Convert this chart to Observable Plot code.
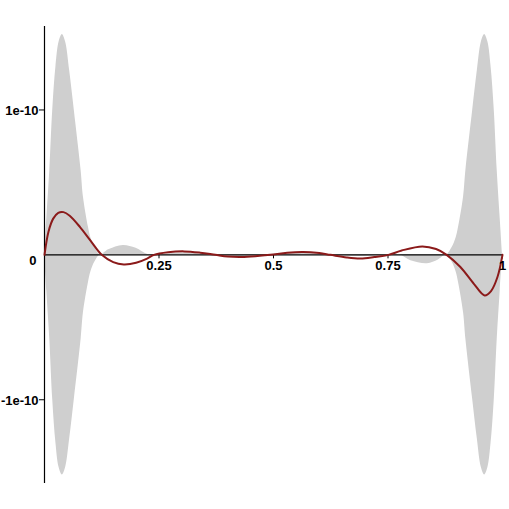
<!DOCTYPE html>
<html><head><meta charset="utf-8">
<script src="https://cdn.jsdelivr.net/npm/d3@7"></script>
<script src="https://cdn.jsdelivr.net/npm/@observablehq/plot@0.6"></script>
<style>body{margin:0;background:#fff}</style>
</head><body><div id="chart"></div>
<script>
// values in units of 1e-10
const bandX     = [0, 0.005, 0.0115, 0.018, 0.025, 0.032, 0.039, 0.046, 0.055, 0.065, 0.08, 0.085, 0.096, 0.101, 0.11, 0.122, 0.14, 0.172, 0.2, 0.227, 0.25, 0.3, 0.37, 0.43, 0.49, 0.565, 0.62, 0.69, 0.75, 0.775, 0.8, 0.836, 0.86, 0.878, 0.89, 0.899, 0.904, 0.915, 0.92, 0.935, 0.945, 0.954, 0.961, 0.968, 0.975, 0.982, 0.9885, 0.995, 1];
const bandUpper = [0, 0.25, 0.58, 1.0, 1.3, 1.47, 1.52, 1.47, 1.27, 1.0, 0.58, 0.4, 0.19, 0.12, 0.05, 0, 0.035, 0.065, 0.045, 0, 0, 0.015, 0, 0, 0, 0.012, 0, 0, 0, 0, 0, 0, 0, 0, 0.05, 0.12, 0.19, 0.4, 0.58, 1.0, 1.27, 1.47, 1.52, 1.47, 1.3, 1.0, 0.58, 0.25, 0];
const bandLower = [0, -0.25, -0.58, -1.0, -1.3, -1.47, -1.52, -1.47, -1.27, -1.0, -0.58, -0.4, -0.19, -0.12, -0.05, 0, 0, 0, 0, 0, 0, 0, 0, -0.01, 0, 0, 0, -0.012, 0, 0, -0.04, -0.061, -0.035, 0, -0.05, -0.12, -0.19, -0.4, -0.58, -1.0, -1.27, -1.47, -1.52, -1.47, -1.3, -1.0, -0.58, -0.25, 0];

const curveX = [0, 0.0087, 0.019, 0.03, 0.0415, 0.055, 0.078, 0.1, 0.125, 0.15, 0.173, 0.2, 0.224, 0.239, 0.27, 0.305, 0.34, 0.373, 0.4, 0.43, 0.46, 0.493, 0.53, 0.565, 0.6, 0.624, 0.66, 0.69, 0.72, 0.751, 0.78, 0.825, 0.855, 0.878, 0.908, 0.9375, 0.961, 0.975, 0.989, 1];
const curveY = [0, 0.16, 0.25, 0.29, 0.295, 0.27, 0.19, 0.10, 0, -0.05, -0.066, -0.055, -0.026, 0, 0.018, 0.024, 0.015, 0, -0.012, -0.015, -0.01, 0, 0.015, 0.02, 0.012, 0, -0.018, -0.025, -0.015, 0, 0.03, 0.058, 0.04, 0, -0.084, -0.2, -0.28, -0.25, -0.153, 0];

const xTicks = [0.25, 0.5, 0.75, 1];
const xTickLabels = ["0.25", "0.5", "0.75", "1"];
const yTicks = [1e-10, -1e-10];
const yTickLabels = ["1e-10", "-1e-10"];
const zeroLabel = "0";

const UNIT = 1e-10;
const band = bandX.map((x, i) => ({x, lo: bandLower[i] * UNIT, hi: bandUpper[i] * UNIT}));
const curve = curveX.map((x, i) => ({x, y: curveY[i] * UNIT}));

const font = {fontFamily: "'Liberation Sans', Arial, sans-serif", fontWeight: "bold", fontSize: 13, fill: "black"};

const chart = Plot.plot({
  width: 509, height: 509,
  marginLeft: 44, marginRight: 7, marginTop: 26, marginBottom: 26,
  x: {domain: [0, 1], axis: null},
  y: {domain: [-1.578e-10, 1.576e-10], axis: null},
  marks: [
    Plot.areaY(band, {x: "x", y1: "lo", y2: "hi", fill: "#cfcfcf", curve: "catmull-rom"}),
    Plot.ruleY([0], {stroke: "black", strokeWidth: 1.2}),
    Plot.ruleX([0], {stroke: "black", strokeWidth: 1.2}),
    Plot.ruleX(xTicks, {x: d => d, y1: 0, y2: 0, insetBottom: -4, stroke: "black"}),
    Plot.ruleY(yTicks, {y: d => d, x1: 0, x2: 0, insetLeft: -5, stroke: "black"}),
    Plot.line(curve, {x: "x", y: "y", stroke: "#8b1a1a", strokeWidth: 2, curve: "catmull-rom"}),
    Plot.text(xTicks, {x: d => d, y: 0, text: (d, i) => xTickLabels[i], dy: 11, textAnchor: "middle", ...font}),
    Plot.text(yTicks, {x: 0, y: d => d, text: (d, i) => yTickLabels[i], dx: -6, dy: 1, textAnchor: "end", ...font}),
    Plot.text([0], {x: 0, y: 0, text: () => zeroLabel, dx: -8, dy: 6, textAnchor: "end", ...font})
  ]
});
document.getElementById("chart").appendChild(chart);
</script>
</body></html>
